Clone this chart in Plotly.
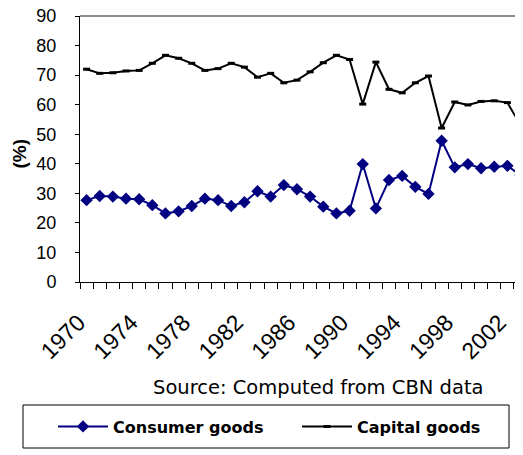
import plotly.graph_objects as go

years = list(range(1970, 2004))
consumer_goods = [27.7, 29.1, 28.9, 28.2, 28.0, 26.0, 23.2, 23.9, 25.7, 28.2,
                  27.7, 25.7, 27.0, 30.7, 28.9, 32.8, 31.4, 28.9, 25.5, 23.2,
                  24.1, 39.9, 24.9, 34.5, 35.9, 32.2, 29.8, 47.8, 38.8, 39.9,
                  38.5, 39.0, 39.3, 36.2]
capital_goods = [72.0, 70.6, 70.8, 71.4, 71.6, 74.0, 76.7, 75.7, 74.0, 71.6,
                 72.2, 74.0, 72.7, 69.3, 70.6, 67.4, 68.3, 71.1, 74.2, 76.7,
                 75.3, 60.2, 74.4, 65.2, 64.0, 67.4, 69.7, 52.1, 60.9, 59.9,
                 61.1, 61.3, 60.7, 53.1]
label_years = years[::4]
label_text = [str(y) for y in label_years]
y_ticks = list(range(0, 91, 10))

# page body has an 8px margin: the figure is drawn at (8, 8) in the window
OFF = 8
W, H = 523 - OFF, 455 - OFF
# plot area in window coordinates: x 80..523, y 16..282
ML, MT = 80 - OFF, 16 - OFF
MR, MB = 0, H - (282 - OFF)
PW, PH = W - ML - MR, H - MT - MB

def px(x):
    """window x (px) -> paper x"""
    return (x - OFF - ML) / PW

def py(y):
    """window y (px) -> paper y"""
    return (H - MB - (y - OFF)) / PH

fig = go.Figure()
fig.add_trace(go.Scatter(
    x=years, y=consumer_goods, name="Consumer goods", mode="lines+markers",
    line=dict(color="#000080", width=2),
    marker=dict(symbol="diamond", size=9.5, color="#000080"),
))
fig.add_trace(go.Scatter(
    x=years, y=capital_goods, name="Capital goods", mode="lines+markers",
    line=dict(color="black", width=2),
    marker=dict(symbol="line-ew", size=5, color="black",
                line=dict(width=3, color="black")),
))

fig.update_layout(
    width=W, height=H, autosize=False,
    margin=dict(l=ML, r=MR, t=MT, b=MB, pad=0, autoexpand=False),
    paper_bgcolor="white", plot_bgcolor="white",
    font=dict(family="Liberation Sans, Arial", color="black"),
    showlegend=True,
    legend=dict(orientation="h", x=px(53), y=py(426.5), xanchor="left",
                yanchor="middle", bgcolor="rgba(0,0,0,0)", borderwidth=0,
                font=dict(family="DejaVu Sans", size=16, color="black", weight="bold"),
                itemwidth=50, entrywidth=179, entrywidthmode="pixels",
                traceorder="normal"),
    xaxis=dict(
        type="linear", range=[1969.5, 1969.5 + PW / 13.15],
        tickmode="array", tickvals=label_years, ticktext=label_text,
        tickangle=-45, ticks="", automargin=False, ticklabeloverflow="allow",
        ticklabelstandoff=17, ticklabelshift=-8,
        tickfont=dict(family="Liberation Sans, Arial", size=23, color="black"),
        minor=dict(ticks="outside", tick0=1969.5, dtick=1, ticklen=6,
                   tickcolor="black", tickwidth=1, showgrid=False),
        showline=True, linecolor="black", linewidth=1,
        showgrid=False, zeroline=False,
    ),
    yaxis=dict(
        range=[0, 90], tickmode="array", tickvals=y_ticks,
        ticks="outside", ticklen=4, tickcolor="black", automargin=False,
        ticklabeloverflow="allow",
        tickfont=dict(family="Liberation Sans, Arial", size=18, color="black"),
        ticklabelstandoff=15,
        showline=True, linecolor="black", linewidth=1,
        showgrid=False, zeroline=False,
    ),
    shapes=[
        dict(type="line", xref="paper", yref="paper", x0=0, x1=1, y0=1, y1=1,
             line=dict(color="#8c8c8c", width=2)),
        dict(type="rect", xref="paper", yref="paper",
             x0=px(23), x1=px(509), y0=py(448), y1=py(405),
             line=dict(color="black", width=1)),
    ],
    annotations=[
        dict(text="(%)", xref="paper", yref="paper", x=px(19), y=py(153.5),
             textangle=-90, showarrow=False, xanchor="center", yanchor="middle",
             font=dict(family="Liberation Sans, Arial", size=19, color="black",
                       weight="bold")),
        dict(text="Source: Computed from CBN data", xref="paper", yref="paper",
             x=px(318), y=py(387), showarrow=False, xanchor="center",
             yanchor="middle",
             font=dict(family="DejaVu Sans", size=19.5, color="black")),
    ],
)

fig.write_html("out.html")
